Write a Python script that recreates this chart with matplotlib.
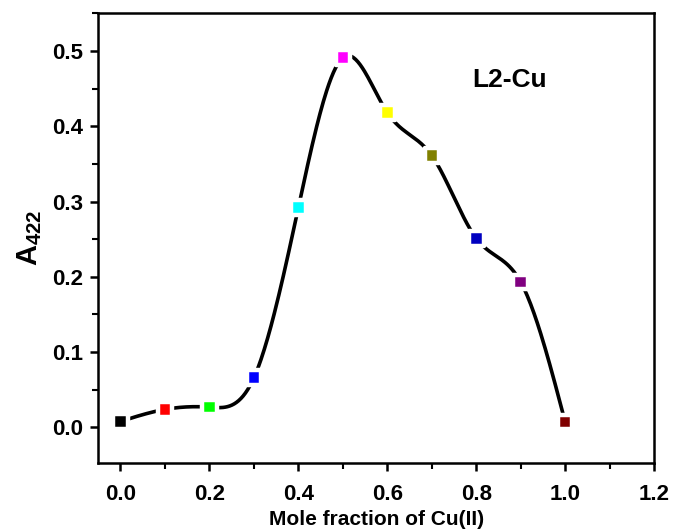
import numpy as np
import matplotlib
matplotlib.use('Agg')
import matplotlib.pyplot as plt
from matplotlib.ticker import MultipleLocator, FormatStrFormatter

plt.rcParams['font.family'] = 'Liberation Sans'
plt.rcParams['font.weight'] = 'bold'
plt.rcParams['mathtext.fontset'] = 'custom'
plt.rcParams['mathtext.rm'] = 'Liberation Sans:bold'
plt.rcParams['mathtext.it'] = 'Liberation Sans:bold'
plt.rcParams['mathtext.bf'] = 'Liberation Sans:bold'

# data
mole_fraction = [0.0, 0.1, 0.2, 0.3, 0.4, 0.5, 0.6, 0.7, 0.8, 0.9, 1.0]
absorbance = [0.008, 0.024, 0.027, 0.066, 0.292, 0.491, 0.418, 0.361, 0.251, 0.193, 0.007]
point_colors = ['#000000', '#ff0000', '#00ff00', '#0000ff', '#00ffff', '#ff00ff',
                '#ffff00', '#808000', '#0000c0', '#800080', '#800000']


# natural cubic spline through the points (smooth line like Origin)
def cubic_spline(x, y, xs):
    x = np.asarray(x, float)
    y = np.asarray(y, float)
    n = len(x)
    h = np.diff(x)
    A = np.zeros((n, n))
    b = np.zeros(n)
    A[0, 0] = A[-1, -1] = 1
    for i in range(1, n - 1):
        A[i, i - 1] = h[i - 1]
        A[i, i] = 2 * (h[i - 1] + h[i])
        A[i, i + 1] = h[i]
        b[i] = 3 * ((y[i + 1] - y[i]) / h[i] - (y[i] - y[i - 1]) / h[i - 1])
    c = np.linalg.solve(A, b)
    idx = np.clip(np.searchsorted(x, xs) - 1, 0, n - 2)
    dx = xs - x[idx]
    bb = (y[idx + 1] - y[idx]) / h[idx] - h[idx] * (2 * c[idx] + c[idx + 1]) / 3
    d = (c[idx + 1] - c[idx]) / (3 * h[idx])
    return y[idx] + bb * dx + c[idx] * dx ** 2 + d * dx ** 3


xs = np.linspace(0, 1.0, 400)
ys = cubic_spline(mole_fraction, absorbance, xs)

fig, ax = plt.subplots(figsize=(6.73, 5.29), dpi=100)
fig.subplots_adjust(left=0.146, right=0.972, top=0.975, bottom=0.125)

ax.plot(xs, ys, color='black', lw=2.6, zorder=2)
# white edge leaves a small gap between the line and each marker
ax.scatter(mole_fraction, absorbance, marker='s', s=110, c=point_colors,
           edgecolors='white', linewidths=3.2, zorder=3)

ax.set_xlim(-0.05, 1.2)
ax.set_ylim(-0.047, 0.55)
ax.xaxis.set_major_locator(MultipleLocator(0.2))
ax.xaxis.set_minor_locator(MultipleLocator(0.1))
ax.yaxis.set_major_locator(MultipleLocator(0.1))
ax.yaxis.set_minor_locator(MultipleLocator(0.05))
ax.tick_params(which='major', direction='out', length=6, width=1.8, labelsize=16, pad=5)
ax.tick_params(axis='x', which='major', pad=9)
ax.tick_params(which='minor', direction='out', length=4, width=1.5)
ax.xaxis.set_major_formatter(FormatStrFormatter('%.1f'))
ax.yaxis.set_major_formatter(FormatStrFormatter('%.1f'))
for sp in ax.spines.values():
    sp.set_linewidth(1.8)

ax.set_xlabel('Mole fraction of Cu(II)', fontsize=15, fontweight='bold', labelpad=4)
ax.set_ylabel(r'$\mathbf{A}_{\mathbf{422}}$', fontsize=21, labelpad=6)
ax.text(0.79, 0.461, 'L2-Cu', fontsize=19, fontweight='bold', va='center')

fig.savefig('out.png', dpi=100)
